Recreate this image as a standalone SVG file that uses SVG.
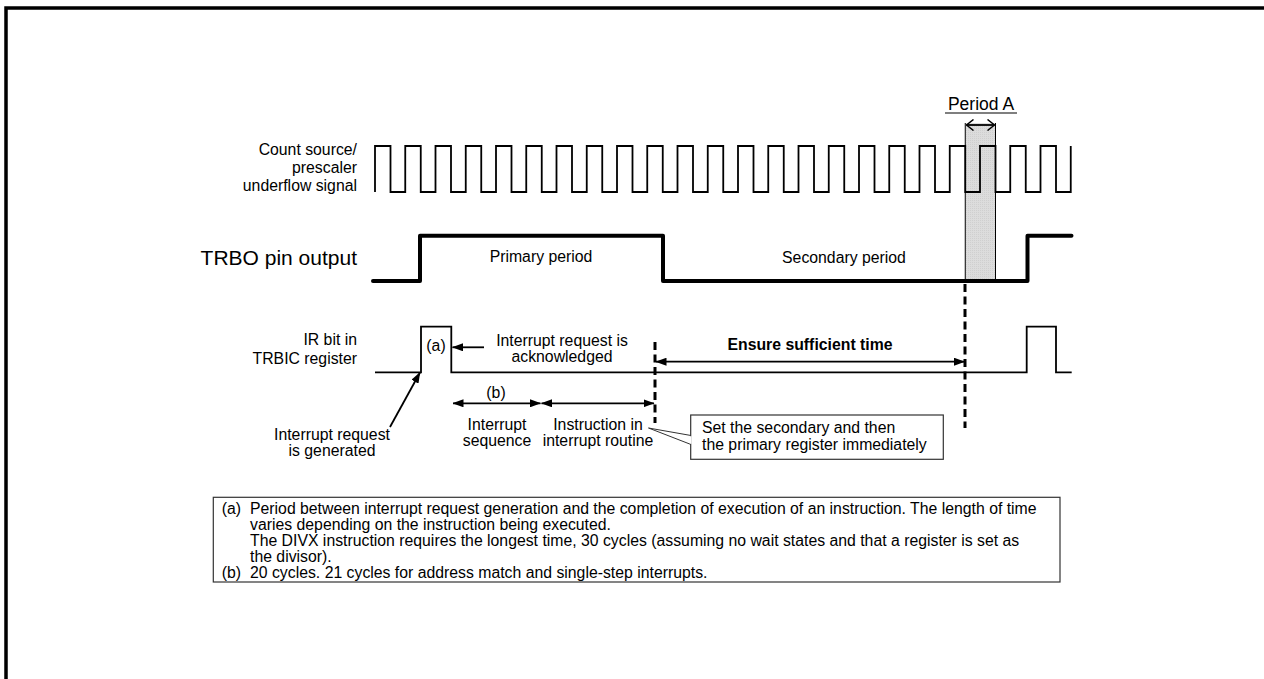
<svg xmlns="http://www.w3.org/2000/svg" width="1264" height="679" viewBox="0 0 1264 679">
<style>
text{font-family:"Liberation Sans",Arial,sans-serif;font-size:15.8px;fill:#000}
.end{text-anchor:end}
.mid{text-anchor:middle}
.sig{fill:none;stroke:#000;stroke-width:1.8}
.thick{fill:none;stroke:#000;stroke-width:4;stroke-linecap:round;stroke-linejoin:round}
.dash{fill:none;stroke:#000;stroke-width:3;stroke-dasharray:8 4.5}
.arr{fill:none;stroke:#000;stroke-width:1.8}
.box{fill:#fff;stroke:#333;stroke-width:1.2}
</style>
<defs>
<marker id="ah" viewBox="0 0 11 8" refX="10.5" refY="4" markerWidth="11" markerHeight="8" markerUnits="userSpaceOnUse" orient="auto-start-reverse">
<path d="M0,0 L11,4 L0,8 z" fill="#000"/>
</marker>
<marker id="oh" viewBox="0 0 8 12" refX="7.5" refY="6" markerWidth="8" markerHeight="12" markerUnits="userSpaceOnUse" orient="auto-start-reverse">
<path d="M0.5,0.5 L7.5,6 L0.5,11.5" fill="none" stroke="#000" stroke-width="1.5"/>
</marker>
<pattern id="dots" width="2" height="2" patternUnits="userSpaceOnUse">
<rect width="2" height="2" fill="#dcdcdc"/>
<rect width="1" height="1" fill="#cfcfcf"/>
</pattern>
</defs>
<rect width="1264" height="679" fill="#fff"/>
<path d="M6,679 V8 H1264" fill="none" stroke="#000" stroke-width="3.5"/>

<g id="periodA">
<rect x="965.25" y="123" width="30.25" height="158" fill="url(#dots)"/>
<path d="M965.25,123 V281 M995.5,123 V281" fill="none" stroke="#000" stroke-width="1"/>
<line x1="966.5" y1="125" x2="994.5" y2="125" class="arr" stroke-width="1.5" marker-start="url(#oh)" marker-end="url(#oh)"/>
<text x="981" y="110" class="mid" style="font-size:17.5px">Period A</text>
<line x1="945" y1="113" x2="1017" y2="113" stroke="#000" stroke-width="1.2"/>
</g>

<g id="clock">
<text x="357" y="154.5" class="end">Count source/</text>
<text x="357" y="172.5" class="end">prescaler</text>
<text x="357" y="190.5" class="end">underflow signal</text>
<path class="sig" stroke-width="1.6" d="M375,192 V146 H390.5 V192 H405.25 V146 H420.75 V192 H435.5 V146 H451 V192 H465.75 V146 H481.25 V192 H496 V146 H511.5 V192 H526.25 V146 H541.75 V192 H556.5 V146 H572 V192 H586.75 V146 H602.25 V192 H617 V146 H632.5 V192 H647.25 V146 H662.75 V192 H677.5 V146 H693 V192 H707.75 V146 H723.25 V192 H738 V146 H753.5 V192 H768.25 V146 H783.75 V192 H798.5 V146 H814 V192 H828.75 V146 H844.25 V192 H859 V146 H874.5 V192 H889.25 V146 H904.75 V192 H919.5 V146 H935 V192 H949.75 V146 H965.25 V192 H980 V146 H995.5 V192 H1010.25 V146 H1025.75 V192 H1040.5 V146 H1056 V192 H1070.75 V146"/>
</g>

<g id="trbo">
<text x="357" y="265" class="end" style="font-size:21px">TRBO pin output</text>
<path class="thick" d="M373,281 H420 V235.7 H663 V281 H1027.5 V235.7 H1071.5"/>
<text x="541" y="262" class="mid">Primary period</text>
<text x="844" y="263" class="mid">Secondary period</text>
</g>

<g id="irbit">
<text x="357" y="345" class="end">IR bit in</text>
<text x="357" y="364" class="end">TRBIC register</text>
<path class="sig" d="M375,372.3 H421 V326.7 H451.3 V372.3 H1026.7 V326.7 H1056 V372.3 H1071.7"/>
<text x="436" y="351" class="mid">(a)</text>
</g>

<g id="connectors">
<line class="dash" x1="965" y1="284" x2="965" y2="428"/>
<line class="dash" x1="655" y1="342" x2="655" y2="423"/>
<line class="arr" x1="484" y1="347.3" x2="452.5" y2="347.3" marker-end="url(#ah)"/>
<line class="arr" x1="453" y1="403.3" x2="540.5" y2="403.3" marker-start="url(#ah)" marker-end="url(#ah)"/>
<line class="arr" x1="541.5" y1="403.3" x2="654" y2="403.3" marker-start="url(#ah)" marker-end="url(#ah)"/>
<line class="arr" x1="656" y1="361.7" x2="964.5" y2="361.7" marker-start="url(#ah)" marker-end="url(#ah)"/>
<line class="arr" x1="390" y1="427" x2="420" y2="372.5" marker-end="url(#ah)"/>
</g>

<g id="labels">
<text x="562" y="346" class="mid">Interrupt request is</text>
<text x="562" y="361.5" class="mid">acknowledged</text>
<text x="496" y="398" class="mid">(b)</text>
<text x="497" y="430" class="mid">Interrupt</text>
<text x="497" y="445.5" class="mid">sequence</text>
<text x="598" y="430" class="mid">Instruction in</text>
<text x="598" y="445.5" class="mid">interrupt routine</text>
<text x="332" y="440" class="mid">Interrupt request</text>
<text x="332" y="456" class="mid">is generated</text>
<text x="810" y="350" class="mid" style="font-weight:bold">Ensure sufficient time</text>
</g>

<g id="callout">
<path d="M691,435.5 L648.5,428 L691,444.5" fill="#fff" stroke="#333" stroke-width="1"/>
<rect class="box" x="690.7" y="415" width="252.6" height="44.3"/>
<line x1="690.7" y1="436.2" x2="690.7" y2="443.8" stroke="#fff" stroke-width="1.6"/>
<text x="702" y="432.5">Set the secondary and then</text>
<text x="702" y="450">the primary register immediately</text>
</g>

<g id="notes">
<rect class="box" x="213.3" y="497.3" width="846.7" height="84.7"/>
<text x="221.7" y="514">(a)</text>
<text x="250" y="514">Period between interrupt request generation and the completion of execution of an instruction. The length of time</text>
<text x="250" y="530">varies depending on the instruction being executed.</text>
<text x="250" y="546">The DIVX instruction requires the longest time, 30 cycles (assuming no wait states and that a register is set as</text>
<text x="250" y="562">the divisor).</text>
<text x="221.7" y="577.5">(b)</text>
<text x="250" y="577.5">20 cycles. 21 cycles for address match and single-step interrupts.</text>
</g>
</svg>
